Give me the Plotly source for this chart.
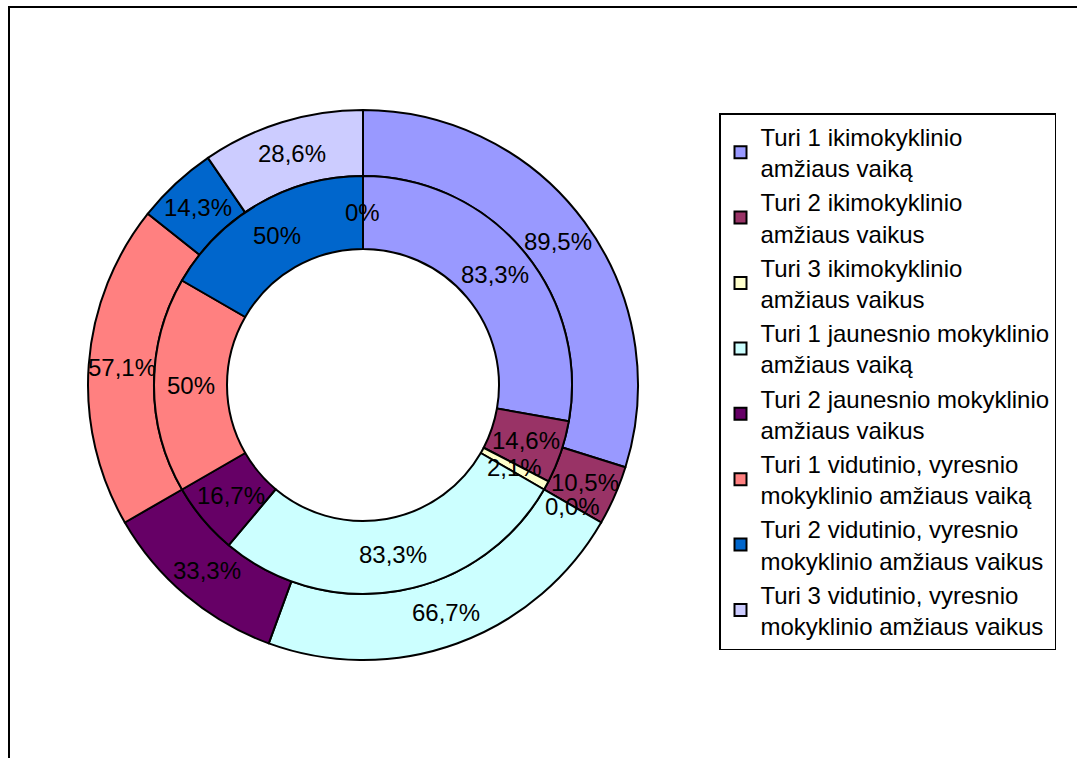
import math
import plotly.graph_objects as go

# legend / slice categories
labels = [
    "Turi 1 ikimokyklinio<br>amžiaus vaiką",
    "Turi 2 ikimokyklinio<br>amžiaus vaikus",
    "Turi 3 ikimokyklinio<br>amžiaus vaikus",
    "Turi 1 jaunesnio mokyklinio<br>amžiaus vaiką",
    "Turi 2 jaunesnio mokyklinio<br>amžiaus vaikus",
    "Turi 1 vidutinio, vyresnio<br>mokyklinio amžiaus vaiką",
    "Turi 2 vidutinio, vyresnio<br>mokyklinio amžiaus vaikus",
    "Turi 3 vidutinio, vyresnio<br>mokyklinio amžiaus vaikus",
]
colors = ["#9999FF", "#993366", "#FFFFCC", "#CCFFFF",
          "#660066", "#FF8080", "#0066CC", "#CCCCFF"]

# inner ring and outer ring values (percent within each age group)
inner_vals = [83.3, 14.6, 2.1, 83.3, 16.7, 50, 50, 0]
inner_text = ["83,3%", "14,6%", "2,1%", "83,3%", "16,7%", "50%", "50%", "0%"]
outer_vals = [89.5, 10.5, 0.0, 66.7, 33.3, 57.1, 14.3, 28.6]
outer_text = ["89,5%", "10,5%", "0,0%", "66,7%", "33,3%", "57,1%", "14,3%", "28,6%"]

W, H = 1077, 758
cx, cy = 363, 385
r_out, r_mid, r_in = 275, 209, 136
FONT = "Liberation Sans, Arial, sans-serif"


def dom(r):
    return dict(x=[(cx - r) / W, (cx + r) / W],
                y=[(H - cy - r) / H, (H - cy + r) / H])


def ring_labels(vals, texts, r0, r1):
    # excel style: label sits on the slice bisector, mid-ring, even if it spills
    total = sum(vals)
    rm = (r0 + r1) / 2
    out = []
    acc = 0
    for v, t in zip(vals, texts):
        a = (acc + v / 2) / total * 2 * math.pi
        acc += v
        px = cx + rm * math.sin(a)
        py = cy - rm * math.cos(a)
        out.append(dict(x=px / W, y=1 - py / H, xref="paper", yref="paper",
                        xanchor="center", yanchor="middle",
                        text=t, showarrow=False,
                        font=dict(size=24, family=FONT, color="black")))
    return out


fig = go.Figure()
fig.add_trace(go.Pie(
    labels=labels, values=outer_vals, textinfo="none",
    sort=False, direction="clockwise", rotation=0, hole=r_mid / r_out,
    marker=dict(colors=colors, line=dict(color="black", width=2)),
    domain=dom(r_out), hoverinfo="label+percent",
))
fig.add_trace(go.Pie(
    labels=labels, values=inner_vals, textinfo="none",
    sort=False, direction="clockwise", rotation=0, hole=r_in / r_mid,
    marker=dict(colors=colors, line=dict(color="black", width=2)),
    domain=dom(r_mid), hoverinfo="label+percent",
    showlegend=False,
))

annots = ring_labels(outer_vals, outer_text, r_mid, r_out)
annots += ring_labels(inner_vals, inner_text, r_in, r_mid)

fig.update_layout(
    width=W, height=H,
    margin=dict(l=0, r=0, t=0, b=0),
    paper_bgcolor="white",
    annotations=annots,
    legend=dict(
        x=719 / W, y=1 - 113 / H, xanchor="left", yanchor="top",
        font=dict(size=24, family=FONT, color="black"),
        bordercolor="black", borderwidth=1.5, bgcolor="white",
        traceorder="normal",
    ),
    shapes=[dict(type="rect", xref="paper", yref="paper",
                 x0=9 / W, x1=1.01, y0=-0.01, y1=1 - 7 / H,
                 line=dict(color="black", width=2))],
)

fig.write_html("out.html", config={"displayModeBar": False},
               post_script="document.body.style.margin='0';")
